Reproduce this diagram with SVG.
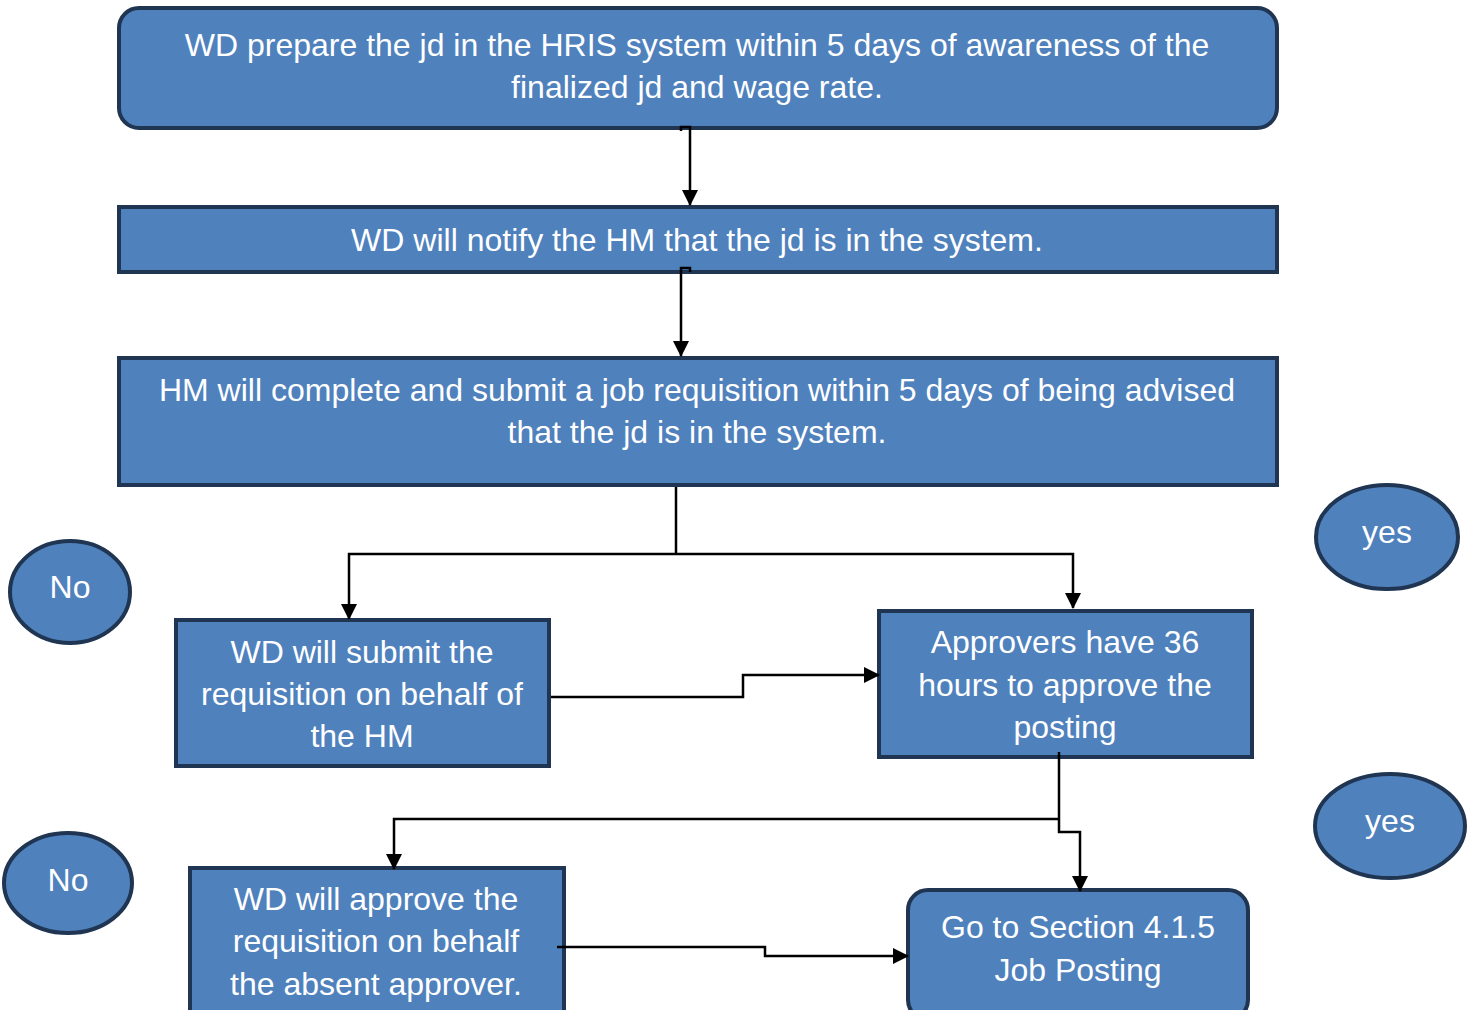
<svg xmlns="http://www.w3.org/2000/svg" width="1469" height="1010" viewBox="0 0 1469 1010">
<defs>
<marker id="arr" markerWidth="16" markerHeight="16" refX="15" refY="8" orient="auto" markerUnits="userSpaceOnUse" viewBox="0 0 16 16">
<path d="M0,0 L16,8 L0,16 Z" fill="#000"/>
</marker>
<style>
.box{fill:#4F81BD;stroke:#1F3552;stroke-width:4}
.t{font-family:"Liberation Sans",Arial,sans-serif;font-size:32px;fill:#fff;text-anchor:middle}
.c{fill:none;stroke:#000;stroke-width:2.5}
.ca{fill:none;stroke:#000;stroke-width:2.5;marker-end:url(#arr)}
</style>
</defs>
<rect width="1469" height="1010" fill="#fff"/>
<g id="n1"><rect class="box" x="119" y="8" width="1158" height="120" rx="20"/>
<text class="t" x="697" y="56">WD prepare the jd in the HRIS system within 5 days of awareness of the</text>
<text class="t" x="697" y="98">finalized jd and wage rate.</text></g>
<g id="n2"><rect class="box" x="119" y="207" width="1158" height="65"/>
<text class="t" x="697" y="251">WD will notify the HM that the jd is in the system.</text></g>
<g id="n3"><rect class="box" x="119" y="358" width="1158" height="127"/>
<text class="t" x="697" y="401">HM will complete and submit a job requisition within 5 days of being advised</text>
<text class="t" x="697" y="443">that the jd is in the system.</text></g>
<g id="n4"><rect class="box" x="176" y="620" width="373" height="146"/>
<text class="t" x="362" y="663">WD will submit the</text>
<text class="t" x="362" y="705">requisition on behalf of</text>
<text class="t" x="362" y="747">the HM</text></g>
<g id="n5"><rect class="box" x="879" y="611" width="373" height="146"/>
<text class="t" x="1065" y="653">Approvers have 36</text>
<text class="t" x="1065" y="696">hours to approve the</text>
<text class="t" x="1065" y="738">posting</text></g>
<g id="n6"><rect class="box" x="190" y="868" width="374" height="150"/>
<text class="t" x="376" y="910">WD will approve the</text>
<text class="t" x="376" y="952">requisition on behalf</text>
<text class="t" x="376" y="995">the absent approver.</text></g>
<g id="n7"><rect class="box" x="908" y="890" width="340" height="130" rx="20"/>
<text class="t" x="1078" y="938">Go to Section 4.1.5</text>
<text class="t" x="1078" y="981">Job Posting</text></g>
<g id="no1"><ellipse class="box" cx="70" cy="592" rx="60" ry="51"/>
<text class="t" x="70" y="598">No</text></g>
<g id="no2"><ellipse class="box" cx="68" cy="883" rx="64" ry="50"/>
<text class="t" x="68" y="891">No</text></g>
<g id="yes1"><ellipse class="box" cx="1387" cy="537" rx="71" ry="52"/>
<text class="t" x="1387" y="543">yes</text></g>
<g id="yes2"><ellipse class="box" cx="1390" cy="826" rx="75" ry="52"/>
<text class="t" x="1390" y="832">yes</text></g>
<!-- elbow connectors, drawn over the node borders -->
<g id="connectors">
<path class="ca" d="M681,131 V127 H690 V205"/>
<path class="ca" d="M690,272 V268 H681 V356"/>
<path class="c" d="M676,487 V554"/>
<path class="ca" d="M676,554 H349 V619"/>
<path class="ca" d="M676,554 H1073 V608"/>
<path class="ca" d="M551,697 H743 V675 H879"/>
<path class="c" d="M1059,752 V819"/>
<path class="ca" d="M1059,819 H394 V869"/>
<path class="ca" d="M1059,819 V832 H1080 V891"/>
<path class="ca" d="M557,947 H765 V956 H908"/>
</g>
</svg>
